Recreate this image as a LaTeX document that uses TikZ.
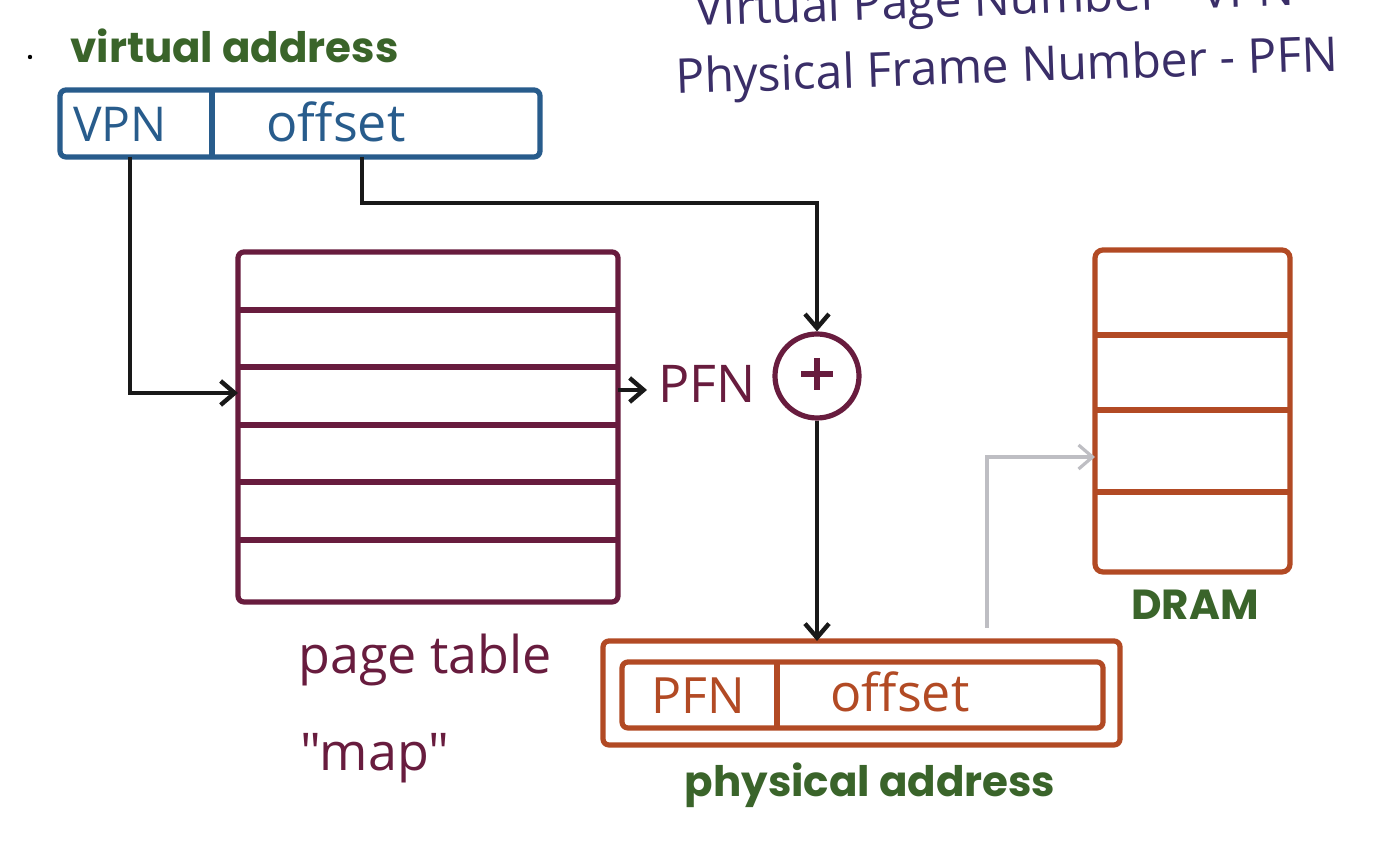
\documentclass[tikz,border=0pt]{standalone}
\usepackage{fontspec}
\setmainfont{Open Sans}
\newfontfamily\lblfont{Poppins}
\newfontfamily\handfont{Open Sans}
\usetikzlibrary{arrows.meta}
\definecolor{vablue}{RGB}{40,92,140}
\definecolor{ptmaroon}{RGB}{104,28,62}
\definecolor{paorange}{RGB}{178,74,36}
\definecolor{lblgreen}{RGB}{58,100,42}
\definecolor{notepurple}{RGB}{58,46,104}
\definecolor{arrowgray}{RGB}{190,190,195}
\tikzset{
  wire/.style={line width=2.2pt, draw=black!90, -{Straight Barb[length=7pt,width=12pt,line width=2.2pt]}},
  greylink/.style={line width=1.6pt, draw=arrowgray, -{Straight Barb[length=7pt,width=12pt,line width=1.6pt]}},
  lbl/.style={font=\lblfont\bfseries\fontsize{21}{24}\selectfont, text=lblgreen, inner sep=0pt},
  hand/.style={font=\handfont\fontsize{24}{28}\selectfont, inner sep=0pt},
  note/.style={font=\handfont\fontsize{24}{28}\selectfont, text=notepurple, inner sep=0pt, anchor=base west, rotate=2},
  vabox/.style={draw=vablue, line width=2.6pt, rounded corners=3pt},
  ptbox/.style={draw=ptmaroon, line width=2.6pt, rounded corners=3pt},
  pabox/.style={draw=paorange, line width=2.6pt, rounded corners=3pt},
  drambox/.style={draw=paorange, line width=2.6pt, rounded corners=4pt},
}
\begin{document}
\begin{tikzpicture}[x=0.5pt,y=-0.5pt]
\useasboundingbox (0,0) rectangle (1378,860);
\clip (0,0) rectangle (1378,860);
\fill[white] (0,0) rectangle (1378,860);

% notes top right
\node[note] (note1) at (695,26) {Virtual Page Number - VPN};
\node[note] (note2) at (676,94) {Physical Frame Number - PFN};

% virtual address
\fill (30,57) circle (2.2);
\node[lbl, anchor=base west] (valbl) at (70,63) {virtual address};
\draw[vabox] (60,90) rectangle (540,157);
\draw[vablue, line width=2.6pt] (212,90) -- (212,157);
\node[hand, text=vablue] (vpn) at (120,124) {VPN};
\node[hand, text=vablue, font=\handfont\fontsize{26}{28}\selectfont] (voff) at (336,122) {offset};
\coordinate (vpnb) at (130,157);
\coordinate (voffb) at (362,157);

% page table
\draw[ptbox] (238,252) rectangle (618,602);
\foreach \yy in {310,367,425,482,540}
  \draw[ptmaroon, line width=2.6pt] (238,\yy) -- (618,\yy);
\coordinate (ptin) at (238,393);
\coordinate (ptout) at (618,390);
\node[hand, text=ptmaroon, font=\handfont\fontsize{26}{30}\selectfont] (pfn) at (707,384) {PFN};
\node[hand, text=ptmaroon, font=\handfont\fontsize{26}{30}\selectfont] (ptlbl) at (425,660) {page table};
\node[hand, text=ptmaroon, font=\handfont\fontsize{26}{30}\selectfont] (map) at (375,758) {"map"};

% adder
\node[circle, draw=ptmaroon, line width=2.6pt, minimum size=42pt, inner sep=0pt] (add) at (817,376) {};
\draw[ptmaroon, line width=2.6pt] (801,374) -- (833,374) (817,358) -- (817,390);

% physical address
\draw[pabox] (603,641) rectangle (1120,745);
\draw[pabox] (622,662) rectangle (1103,728);
\draw[paorange, line width=2.6pt] (777,662) -- (777,728);
\node[hand, text=paorange, font=\handfont\fontsize{25}{28}\selectfont] (ppfn) at (698,696) {PFN};
\node[hand, text=paorange, font=\handfont\fontsize{26}{28}\selectfont] (poff) at (900,692) {offset};
\node[lbl, anchor=base] (palbl) at (870,797) {physical address};
\coordinate (patop) at (817,641);

% DRAM
\draw[drambox] (1095,250) rectangle (1290,572);
\foreach \yy in {335,410,492}
  \draw[paorange, line width=2.6pt] (1095,\yy) -- (1290,\yy);
\node[lbl, anchor=base] (dramlbl) at (1195,620) {DRAM};
\coordinate (dramin) at (1095,457);
\coordinate (gstart) at (987,628);

% connectors
\draw[wire] (vpnb) |- (ptin);
\draw[wire] (voffb) -- (362,203) -| (add.north);
\draw[wire] (ptout) -- (647,390);
\draw[wire] (add.south) -- (patop);
\draw[greylink] (gstart) |- (dramin);
\end{tikzpicture}
\end{document}
